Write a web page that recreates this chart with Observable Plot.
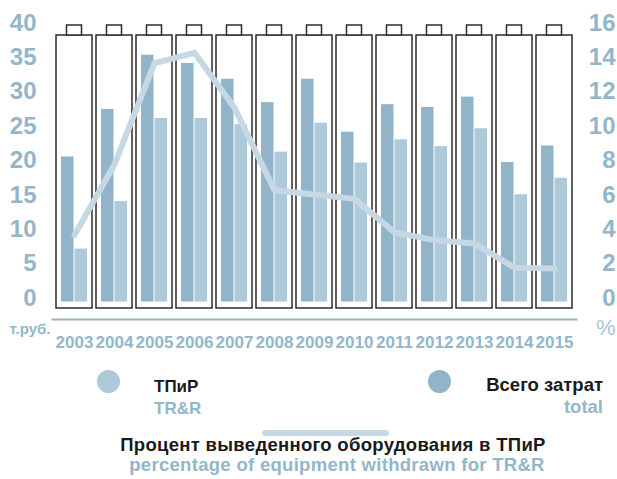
<!DOCTYPE html>
<html><head><meta charset="utf-8">
<script src="https://cdn.jsdelivr.net/npm/d3@7"></script>
<script src="https://cdn.jsdelivr.net/npm/@observablehq/plot@0.6"></script>
<style>
body{margin:0;background:#fff;font-family:"Liberation Sans",Arial,sans-serif;}
#wrap{position:relative;width:617px;height:479px;overflow:hidden;background:#fff}
#chart{position:absolute;left:0;top:0}
.t{position:absolute;white-space:nowrap;font-weight:bold;font-size:18px;line-height:1}
.dot{position:absolute;width:23px;height:23px;border-radius:50%}
</style></head><body>
<div id="wrap">
  <div id="chart"></div>
  <div class="dot" style="left:96.5px;top:369.5px;background:#aecada"></div>
  <div class="t" style="left:154px;top:377.6px;font-size:17px;color:#1a1a1a">ТПиР</div>
  <div class="t" style="left:154px;top:399.6px;font-size:17px;color:#94b6c9">TR&amp;R</div>
  <div class="dot" style="left:427.5px;top:369.5px;background:#92b4c8"></div>
  <div class="t" style="right:14px;top:376.3px;font-size:18.5px;color:#1a1a1a">Всего затрат</div>
  <div class="t" style="right:14px;top:398.3px;font-size:18.5px;color:#94b6c9">total</div>
  <div style="position:absolute;left:262px;top:430px;width:127px;height:6px;border-radius:3px;background:#c6d8e3"></div>
  <div class="t" style="left:333px;transform:translateX(-50%);top:436.3px;font-size:18.5px;letter-spacing:0.3px;color:#1a1a1a">Процент выведенного оборудования в ТПиР</div>
  <div class="t" style="left:337px;transform:translateX(-50%);top:456.3px;font-size:18.5px;letter-spacing:0.3px;color:#94b6c9">percentage of equipment withdrawn for TR&amp;R</div>
</div>
<script>
const years = ["2003","2004","2005","2006","2007","2008","2009","2010","2011","2012","2013","2014","2015"];
const totalCost = [21.1, 28.0, 35.9, 34.7, 32.4, 29.0, 32.4, 24.7, 28.7, 28.3, 29.8, 20.3, 22.7];
const trrCost = [7.7, 14.6, 26.7, 26.7, 25.8, 21.8, 26.0, 20.2, 23.6, 22.6, 25.2, 15.6, 18.0];
const pctWithdrawn = [3.9, 8.0, 13.9, 14.5, 11.3, 6.5, 6.25, 6.0, 4.05, 3.6, 3.4, 2.0, 1.95];
const leftTicks = [0, 5, 10, 15, 20, 25, 30, 35, 40];
const rightTicks = [0, 2, 4, 6, 8, 10, 12, 14, 16];

const ratio = leftTicks[leftTicks.length - 1] / rightTicks[rightTicks.length - 1];
const rows = years.map((y, i) => ({year: y, total: totalCost[i], trr: trrCost[i], pct: pctWithdrawn[i] * ratio}));

const axisColor = "#94b6c9";
const dark = "#92b4c8";
const light = "#aecada";
const lineColor = "#c6d8e3";
const outline = "#2b2b2b";

const chart = Plot.plot({
  width: 617,
  height: 360,
  marginTop: 35,
  marginBottom: 52,
  marginLeft: 51.5,
  marginRight: 39.5,
  style: {fontFamily: "'Liberation Sans', Arial, sans-serif", background: "transparent"},
  x: {type: "band", domain: years, paddingInner: 0.092, paddingOuter: 0},
  y: {domain: [0, 40], range: [301.5, 26.5]},
  marks: [
    Plot.barY(rows, {x: "year", y: "total", fill: dark, insetLeft: 5, insetRight: 18.5}),
    Plot.barY(rows, {x: "year", y: "trr", fill: light, insetLeft: 18.5, insetRight: 5}),
    Plot.cell(years, {x: d => d, fill: "none", stroke: outline, strokeWidth: 1.5}),
    Plot.cell(years, {x: d => d, fill: "white", stroke: outline, strokeWidth: 1.5, insetLeft: 10.5, insetRight: 10.5, insetBottom: 263, dy: -10}),
    Plot.line(rows, {x: "year", y: "pct", stroke: lineColor, strokeWidth: 6, strokeLinecap: "round", strokeLinejoin: "round"}),
    Plot.ruleY([0], {stroke: axisColor, strokeWidth: 2, dy: 17.5}),
    Plot.axisY({anchor: "left", ticks: leftTicks, tickSize: 0, tickPadding: 15.5, dy: -4, fontSize: 24, fontWeight: "bold", color: axisColor, label: null}),
    Plot.axisY({anchor: "right", ticks: rightTicks.map(t => t * ratio), tickFormat: d => String(d / ratio), tickSize: 0, tickPadding: 37.5, dy: -4, textAnchor: "end", fontSize: 24, fontWeight: "bold", color: axisColor, label: null}),
    Plot.axisX({anchor: "bottom", tickSize: 0, tickPadding: 27, fontSize: 17, fontWeight: "bold", color: axisColor, label: null}),
    Plot.text(["т.руб."], {frameAnchor: "bottom-left", textAnchor: "end", dx: -1.5, dy: 25, fontSize: 15, fontWeight: "bold", fill: axisColor}),
    Plot.text(["%"], {frameAnchor: "bottom-right", textAnchor: "end", dx: 37.5, dy: 26, fontSize: 22, fill: "#a9c4d4"})
  ]
});
document.getElementById("chart").appendChild(chart);
</script>
</body></html>
